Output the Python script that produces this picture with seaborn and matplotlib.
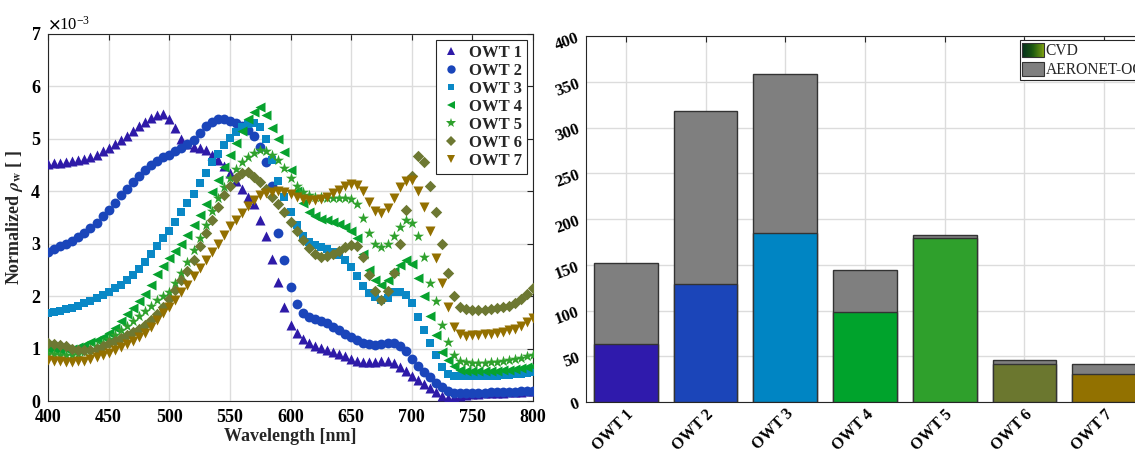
import numpy as np
import pandas as pd
import matplotlib
matplotlib.use("Agg")
import matplotlib.pyplot as plt
import seaborn as sns
from matplotlib.lines import Line2D
from matplotlib.patches import Patch, Rectangle
from matplotlib.legend_handler import HandlerBase
from matplotlib.colors import LinearSegmentedColormap
from matplotlib.ticker import ScalarFormatter

# ---------------- data ----------------
wavelength = np.arange(400, 801, 5)

owt1 = [4.52, 4.53, 4.54, 4.55, 4.57, 4.59, 4.62, 4.66, 4.70, 4.76, 4.82, 4.90, 4.98, 5.06, 5.15, 5.24,
        5.32, 5.40, 5.45, 5.47, 5.38, 5.20, 5.00, 4.90, 4.85, 4.82, 4.78, 4.70, 4.60, 4.48, 4.35, 4.20,
        4.05, 3.90, 3.75, 3.45, 3.15, 2.70, 2.27, 1.80, 1.45, 1.30, 1.18, 1.10, 1.05, 1.02, 0.98, 0.94,
        0.90, 0.85, 0.80, 0.77, 0.75, 0.74, 0.75, 0.76, 0.76, 0.72, 0.65, 0.57, 0.48, 0.40, 0.32, 0.24,
        0.17, 0.10, 0.06, 0.07, 0.10, 0.12, 0.14, 0.14, 0.15, 0.15, 0.16, 0.16, 0.17, 0.17, 0.18, 0.19, 0.20]
owt2 = [2.85, 2.90, 2.95, 3.00, 3.05, 3.12, 3.20, 3.30, 3.40, 3.52, 3.65, 3.78, 3.92, 4.05, 4.18, 4.30,
        4.41, 4.50, 4.58, 4.65, 4.70, 4.76, 4.82, 4.90, 4.98, 5.12, 5.25, 5.33, 5.37, 5.37, 5.35, 5.30,
        5.25, 5.17, 5.05, 4.85, 4.55, 4.10, 3.20, 2.68, 2.17, 1.85, 1.68, 1.60, 1.56, 1.53, 1.48, 1.42,
        1.35, 1.28, 1.22, 1.16, 1.11, 1.08, 1.07, 1.08, 1.10, 1.10, 1.05, 0.95, 0.80, 0.67, 0.55, 0.45,
        0.35, 0.27, 0.20, 0.16, 0.15, 0.15, 0.16, 0.16, 0.16, 0.17, 0.17, 0.17, 0.18, 0.18, 0.19, 0.19, 0.20]
owt3 = [1.68, 1.70, 1.72, 1.75, 1.78, 1.82, 1.86, 1.91, 1.96, 2.02, 2.08, 2.15, 2.22, 2.31, 2.40, 2.52,
        2.65, 2.80, 2.95, 3.10, 3.25, 3.42, 3.60, 3.78, 3.95, 4.15, 4.35, 4.55, 4.72, 4.88, 5.02, 5.13,
        5.22, 5.28, 5.30, 5.22, 5.00, 4.60, 4.20, 3.90, 3.60, 3.36, 3.15, 3.03, 2.98, 2.94, 2.90, 2.85,
        2.78, 2.68, 2.55, 2.38, 2.20, 2.06, 1.98, 1.93, 1.97, 2.07, 2.08, 2.03, 1.87, 1.60, 1.35, 1.10,
        0.87, 0.65, 0.52, 0.48, 0.47, 0.47, 0.47, 0.47, 0.47, 0.48, 0.48, 0.49, 0.50, 0.51, 0.52, 0.53, 0.55]
owt4 = [1.00, 0.99, 0.98, 0.99, 1.00, 1.03, 1.07, 1.12, 1.17, 1.23, 1.30, 1.40, 1.52, 1.65, 1.78, 1.91,
        2.05, 2.22, 2.42, 2.57, 2.72, 2.86, 3.00, 3.17, 3.35, 3.55, 3.75, 3.98, 4.22, 4.46, 4.70, 4.93,
        5.15, 5.38, 5.52, 5.60, 5.45, 5.20, 5.00, 4.75, 4.40, 4.00, 3.78, 3.60, 3.52, 3.48, 3.45, 3.41,
        3.37, 3.32, 3.25, 3.10, 2.80, 2.50, 2.30, 2.22, 2.30, 2.48, 2.60, 2.68, 2.62, 2.35, 2.00, 1.62,
        1.25, 0.94, 0.78, 0.66, 0.60, 0.58, 0.57, 0.57, 0.57, 0.57, 0.58, 0.59, 0.60, 0.61, 0.63, 0.65, 0.67]
owt5 = [0.90, 0.89, 0.88, 0.87, 0.88, 0.90, 0.93, 0.98, 1.05, 1.11, 1.18, 1.26, 1.35, 1.44, 1.53, 1.62,
        1.72, 1.82, 1.92, 2.00, 2.08, 2.25, 2.45, 2.65, 2.88, 3.10, 3.35, 3.62, 3.88, 4.08, 4.25, 4.42,
        4.55, 4.65, 4.73, 4.78, 4.76, 4.70, 4.60, 4.45, 4.25, 4.10, 3.98, 3.92, 3.90, 3.89, 3.88, 3.88,
        3.88, 3.87, 3.85, 3.75, 3.50, 3.20, 3.00, 2.93, 3.00, 3.15, 3.32, 3.45, 3.40, 3.15, 2.75, 2.25,
        1.90, 1.45, 1.12, 0.88, 0.76, 0.74, 0.73, 0.73, 0.73, 0.74, 0.75, 0.76, 0.78, 0.80, 0.82, 0.85, 0.88]
owt6 = [1.10, 1.09, 1.07, 1.04, 1.00, 0.98, 0.97, 0.98, 1.00, 1.05, 1.10, 1.15, 1.20, 1.26, 1.32, 1.38,
        1.45, 1.54, 1.65, 1.80, 1.95, 2.12, 2.30, 2.48, 2.69, 2.95, 3.20, 3.45, 3.70, 3.92, 4.10, 4.25,
        4.35, 4.37, 4.28, 4.18, 4.05, 3.90, 3.75, 3.60, 3.42, 3.25, 3.08, 2.92, 2.80, 2.75, 2.76, 2.80,
        2.86, 2.93, 2.97, 2.95, 2.75, 2.40, 2.10, 1.93, 2.10, 2.45, 3.00, 3.65, 4.30, 4.68, 4.55, 4.10,
        3.60, 3.00, 2.45, 2.00, 1.80, 1.75, 1.73, 1.73, 1.74, 1.75, 1.77, 1.79, 1.82, 1.86, 1.95, 2.04, 2.15]
owt7 = [0.78, 0.77, 0.76, 0.75, 0.75, 0.76, 0.77, 0.80, 0.83, 0.87, 0.92, 0.97, 1.03, 1.09, 1.15, 1.22,
        1.30, 1.42, 1.55, 1.67, 1.80, 1.93, 2.07, 2.22, 2.38, 2.53, 2.68, 2.84, 3.00, 3.17, 3.33, 3.46,
        3.58, 3.71, 3.83, 3.92, 3.96, 3.99, 4.00, 3.98, 3.95, 3.90, 3.86, 3.84, 3.84, 3.86, 3.90, 3.96,
        4.03, 4.10, 4.13, 4.12, 4.00, 3.80, 3.62, 3.58, 3.68, 3.88, 4.08, 4.20, 4.22, 4.00, 3.70, 3.25,
        2.72, 2.25, 1.80, 1.42, 1.27, 1.24, 1.25, 1.26, 1.27, 1.28, 1.30, 1.32, 1.35, 1.38, 1.43, 1.50, 1.58]

owt_labels = ["OWT 1", "OWT 2", "OWT 3", "OWT 4", "OWT 5", "OWT 6", "OWT 7"]
cvd = [63, 129, 185, 98, 179, 42, 31]
aeronet = [89, 189, 173, 46, 4, 4, 11]

# ---------------- style ----------------
line_colors = ["#2E1AA8", "#1A45BA", "#0A88C6", "#07A22E", "#2FA12D", "#6D7832", "#937000"]
bar_colors = ["#2F1AAC", "#1B45B9", "#0085C3", "#00A32C", "#2FA02C", "#6B772F", "#927100"]
markers = ["^", "o", "s", "<", "*", "D", "v"]
msizes = [52, 50, 34, 52, 70, 34, 52]

sns.set_style("white")
plt.rcParams["font.family"] = ["Liberation Serif", "DejaVu Serif"]
plt.rcParams["mathtext.fontset"] = "stix"
plt.rcParams["font.weight"] = "bold"
plt.rcParams["axes.labelweight"] = "bold"

fig = plt.figure(figsize=(11.35, 4.54), dpi=100)
ax1 = fig.add_axes([48 / 1135, 1 - 401 / 454, 485 / 1135, 367 / 454])
ax2 = fig.add_axes([586 / 1135, 1 - 402 / 454, 558 / 1135, 366 / 454])

# ---------------- left: spectra ----------------
series = [owt1, owt2, owt3, owt4, owt5, owt6, owt7]
frames = []
for lab, vals in zip(owt_labels, series):
    frames.append(pd.DataFrame({"wl": wavelength, "rho": np.array(vals) * 1e-3, "owt": lab}))
df = pd.concat(frames, ignore_index=True)

for lab, col, mk, ms in zip(owt_labels, line_colors, markers, msizes):
    sub = df[df["owt"] == lab]
    sns.scatterplot(data=sub, x="wl", y="rho", color=col, marker=mk, s=ms,
                    linewidth=0, ax=ax1, legend=False, zorder=3)

ax1.set_xlim(400, 800)
ax1.set_ylim(0, 7e-3)
ax1.set_xticks(np.arange(400, 801, 50))
ax1.set_yticks(np.arange(0, 7.01e-3, 1e-3))
fmt = ScalarFormatter(useMathText=True)
fmt.set_powerlimits((-3, -3))
ax1.yaxis.set_major_formatter(fmt)
ax1.yaxis.get_offset_text().set_fontsize(12)
ax1.yaxis.get_offset_text().set_fontweight("normal")
ax1.grid(True, color="#dcdcdc", linewidth=1.0)
ax1.set_axisbelow(True)
ax1.tick_params(direction="in", length=4, width=0.8, top=True, right=True,
                labelsize=13, colors="#262626", labelcolor="black")
ax1.tick_params(axis="x", pad=6)
ax1.tick_params(axis="y", pad=5)
for lbl in ax1.get_xticklabels() + ax1.get_yticklabels():
    lbl.set_fontweight("bold")
for sp in ax1.spines.values():
    sp.set_color("#262626")
    sp.set_linewidth(0.8)
ax1.set_xlabel("Wavelength [nm]", fontsize=13, fontweight="bold", labelpad=1)
ax1.set_ylabel(r"Normalized $\rho_{\mathbf{w}}$ [ ]", fontsize=13, fontweight="bold", labelpad=4)

handles = [Line2D([], [], linestyle="none", marker=mk, color=col, markeredgewidth=0,
                  markersize=np.sqrt(ms) * 0.85) for col, mk, ms in zip(line_colors, markers, msizes)]
leg1 = ax1.legend(handles, owt_labels, loc="upper right", frameon=True, fancybox=False,
                  edgecolor="#262626", framealpha=1, prop={"weight": "bold", "size": 12},
                  handlelength=1.2, handletextpad=0.5, labelspacing=0.12,
                  borderpad=0.3, borderaxespad=0.35)
leg1.get_frame().set_linewidth(0.8)

# ---------------- right: stacked bars ----------------
totals = [c + a for c, a in zip(cvd, aeronet)]
bdf = pd.DataFrame({"owt": owt_labels, "cvd": cvd, "total": totals})
sns.barplot(data=bdf, x="owt", y="total", color="#7F7F7F", edgecolor="#333333",
            linewidth=1.0, width=0.8, ax=ax2, saturation=1, zorder=2)
sns.barplot(data=bdf, x="owt", y="cvd", hue="owt", palette=bar_colors, edgecolor="#333333",
            linewidth=1.0, width=0.8, ax=ax2, saturation=1, legend=False, dodge=False, zorder=3)

ax2.set_xlim(-0.5, 6.5)
ax2.set_ylim(0, 400)
ax2.set_yticks(np.arange(0, 401, 50))
ax2.set_xlabel("")
ax2.set_ylabel("")
ax2.grid(True, color="#dcdcdc", linewidth=1.0)
ax2.set_axisbelow(True)
ax2.tick_params(direction="in", length=4, width=0.8, top=True, right=True,
                labelsize=12, colors="#262626", labelcolor="black")
ax2.tick_params(axis="y", pad=3)
ax2.tick_params(axis="x", pad=3)
for lbl in ax2.get_yticklabels():
    lbl.set_rotation(20)
    lbl.set_fontweight("bold")
for lbl in ax2.get_xticklabels():
    lbl.set_rotation(45)
    lbl.set_ha("right")
    lbl.set_rotation_mode("anchor")
    lbl.set_fontweight("bold")
    lbl.set_fontsize(11.5)
for sp in ax2.spines.values():
    sp.set_color("#262626")
    sp.set_linewidth(0.8)


class GradientHandler(HandlerBase):
    def create_artists(self, legend, orig_handle, xdescent, ydescent, width, height, fontsize, trans):
        cmap = LinearSegmentedColormap.from_list("cvd", ["#04301a", "#1d5a0e", "#7a9e12"])
        n = 24
        arts = []
        for i in range(n):
            arts.append(Rectangle((-xdescent + i * width / n, -ydescent), width / n + 0.3, height,
                                  facecolor=cmap(i / (n - 1)), edgecolor="none", transform=trans))
        arts.append(Rectangle((-xdescent, -ydescent), width, height, fill=False,
                              edgecolor="#333333", linewidth=0.8, transform=trans))
        return arts


cvd_handle = Patch(facecolor="#2a6a10")
aer_handle = Patch(facecolor="#7F7F7F", edgecolor="#333333", linewidth=0.8)
leg2 = ax2.legend([cvd_handle, aer_handle], ["CVD", "AERONET-OC"],
                  handler_map={cvd_handle: GradientHandler()},
                  loc="upper left", bbox_to_anchor=(0.778, 0.988), frameon=True, fancybox=False,
                  edgecolor="#262626", framealpha=1, prop={"weight": "normal", "size": 11.2},
                  handlelength=1.4, handleheight=1.05, handletextpad=0.1, labelspacing=0.15,
                  borderpad=0.15, borderaxespad=0.0)
leg2.get_frame().set_linewidth(0.8)

fig.savefig("out.png", dpi=100)
